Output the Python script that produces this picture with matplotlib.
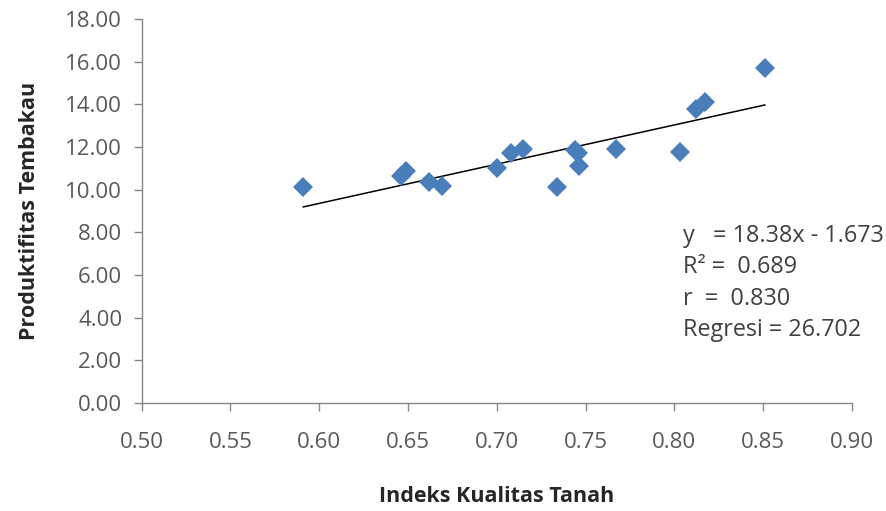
import matplotlib
matplotlib.use("Agg")
import matplotlib.pyplot as plt
import numpy as np

# Data
indeks_kualitas = [0.591, 0.646, 0.649, 0.662, 0.669, 0.700, 0.708, 0.715,
                   0.734, 0.744, 0.746, 0.7465, 0.767, 0.803, 0.812, 0.8175, 0.851]
produktifitas = [10.13, 10.63, 10.86, 10.35, 10.16, 11.02, 11.72, 11.91,
                 10.13, 11.88, 11.72, 11.09, 11.92, 11.75, 13.78, 14.09, 15.72]

slope, intercept = 18.38, -1.673
stats_lines = ["y   = 18.38x - 1.673", "R\u00b2 =  0.689", "r  =  0.830", "Regresi = 26.702"]

x_ticks = [0.50, 0.55, 0.60, 0.65, 0.70, 0.75, 0.80, 0.85, 0.90]
y_ticks = [0, 2, 4, 6, 8, 10, 12, 14, 16, 18]

FONT = "Open Sans"
AXIS_GREY = "#868686"
TEXT_GREY = "#595959"

fig = plt.figure(figsize=(8.87, 5.11), dpi=100)
ax = fig.add_axes([0.1598, 0.2114, 0.8005, 0.7515])

ax.plot(indeks_kualitas, produktifitas, linestyle="none", marker="D",
        markersize=10.5, color="#4A7EBB", markeredgewidth=0, zorder=3)

# linear trend line over the data range
xs = np.array([min(indeks_kualitas), max(indeks_kualitas)])
ax.plot(xs, slope * xs + intercept, color="black", linewidth=1.1, zorder=2)

ax.set_xlim(0.50, 0.90)
ax.set_ylim(0, 18)
ax.set_xticks(x_ticks)
ax.set_yticks(y_ticks)
ax.set_xticklabels([f"{v:.2f}" for v in x_ticks], fontfamily=FONT, fontsize=16, color=TEXT_GREY)
ax.set_yticklabels([f"{v:.2f}" for v in y_ticks], fontfamily=FONT, fontsize=16, color=TEXT_GREY)
ax.tick_params(axis="x", direction="out", length=6, width=1, color=AXIS_GREY, pad=15)
ax.tick_params(axis="y", direction="out", length=6, width=1, color=AXIS_GREY, pad=8)

for side in ["top", "right"]:
    ax.spines[side].set_visible(False)
for side in ["left", "bottom"]:
    ax.spines[side].set_color(AXIS_GREY)
    ax.spines[side].set_linewidth(1)

ax.set_xlabel("Indeks Kualitas Tanah", fontfamily=FONT, fontsize=15.5,
              fontweight="bold", color="#262626", labelpad=24)
ax.set_ylabel("Produktifitas Tembakau", fontfamily=FONT, fontsize=15.5,
              fontweight="bold", color="#262626", labelpad=18)

# regression statistics block
for i, line in enumerate(stats_lines):
    fig.text(683 / 887, 1 - (236 + 31.3 * i) / 511, line, fontfamily=FONT,
             fontsize=16.8, color="#404040", ha="left", va="center")

fig.savefig("out.png", dpi=100)
